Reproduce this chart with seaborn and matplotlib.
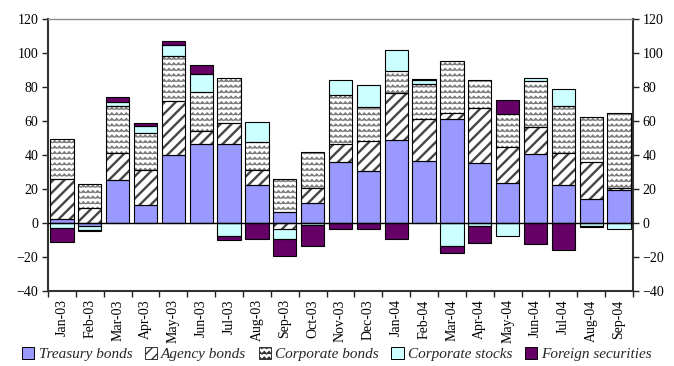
import warnings
import numpy as np
import pandas as pd
import matplotlib
matplotlib.use("Agg")
import matplotlib.pyplot as plt
from matplotlib import hatch as mhatch
from matplotlib.path import Path
from matplotlib.patches import Patch, Rectangle
from matplotlib.ticker import FixedLocator
import seaborn as sns

warnings.filterwarnings("ignore")

# Net purchases by instrument, billions of dollars
months = ["Jan-03", "Feb-03", "Mar-03", "Apr-03", "May-03", "Jun-03", "Jul-03",
          "Aug-03", "Sep-03", "Oct-03", "Nov-03", "Dec-03", "Jan-04", "Feb-04",
          "Mar-04", "Apr-04", "May-04", "Jun-04", "Jul-04", "Aug-04", "Sep-04"]
treasury = [2.2, -1.8, 25.5, 10.8, 40.2, 46.7, 46.7, 22.5, 6.7, 11.8, 35.9,
            30.8, 48.8, 36.7, 61.0, 35.3, 23.3, 40.6, 22.4, 14.1, 19.2]
agency = [23.8, 9.0, 15.9, 20.2, 31.4, 7.6, 11.9, 8.5, -3.5, 9.0, 10.4,
          17.2, 27.5, 24.5, 3.9, 32.3, 21.2, 15.9, 19.0, 21.6, 1.2]
corporate = [23.6, 13.7, 27.2, 22.1, 26.8, 22.7, 26.9, 16.8, 19.4, 21.0, 29.2,
             20.0, 12.9, 20.8, 30.4, 16.3, 19.6, 27.0, 27.6, 26.5, 44.3]
stocks = [-3.0, -2.2, 2.8, 4.2, 6.5, 10.5, -7.5, 11.8, -6.1, -1.3, 8.8,
          13.4, 12.8, 1.9, -13.3, -1.5, -7.6, 2.0, 10.0, -1.8, -3.7]
foreign = [-8.0, -1.0, 2.9, 1.7, 2.4, 5.2, -2.3, -9.4, -9.6, -12.0, -3.3,
           -3.3, -9.6, 1.0, -4.1, -10.0, 8.4, -12.2, -16.1, -0.6, 0.0]

yticks = list(range(-40, 121, 20))


class WaveHatch(mhatch.HatchPatternBase):
    """Rows of small zigzag lines, drawn for every '~' in a hatch string."""
    periods = 21

    def __init__(self, hatch, density):
        self.num_rows = int(hatch.count("~") * density)
        self.npts = 2 * self.periods + 1
        self.num_vertices = self.num_rows * self.npts

    def set_vertices_and_codes(self, vertices, codes):
        xs = np.linspace(0.0, 1.0, self.npts)
        amp = 0.22 / self.num_rows
        offs = np.where(np.arange(self.npts) % 2 == 0, -amp, amp)
        for i in range(self.num_rows):
            y = (i + 0.5) / self.num_rows
            sl = slice(i * self.npts, (i + 1) * self.npts)
            vertices[sl, 0] = xs
            vertices[sl, 1] = y + offs
            codes[sl] = Path.LINETO
            codes[i * self.npts] = Path.MOVETO


if WaveHatch not in mhatch._hatch_types:
    mhatch._hatch_types.append(WaveHatch)

sns.set_theme(style="white")
plt.rcParams["font.family"] = ["Liberation Serif", "DejaVu Serif"]
plt.rcParams["hatch.linewidth"] = 1.0

styles = [
    ("Treasury bonds", treasury, "#9999FF", None, None, None),
    ("Agency bonds", agency, "white", "///", "#454545", 1.7),
    ("Corporate bonds", corporate, "white", "~~~", "#7a7a7a", 0.7),
    ("Corporate stocks", stocks, "#CCFFFF", None, None, None),
    ("Foreign securities", foreign, "#660066", None, None, None),
]

fig = plt.figure(figsize=(6.74, 3.66), dpi=100)
ax = fig.add_axes([0.0712, 0.205, 0.868, 0.743])

n = len(months)
pos_base = np.zeros(n)
neg_base = np.zeros(n)
handles = []
for name, vals, fc, hatch, hcol, hlw in styles:
    v = np.asarray(vals, dtype=float)
    bottom = np.where(v >= 0, pos_base, neg_base)
    df = pd.DataFrame({"month": months, "value": v})
    sns.barplot(data=df, x="month", y="value", order=months, bottom=bottom,
                width=0.84, color=fc, saturation=1, errorbar=None,
                linewidth=0, ax=ax, zorder=2)
    bars = ax.containers[-1]
    for p in bars:
        if hatch:
            p.set_hatch(hatch)
            p.set_edgecolor(hcol)
            p.set_linewidth(0)
            if hasattr(p, "set_hatch_linewidth"):
                p.set_hatch_linewidth(hlw)
        if abs(p.get_height()) > 1e-9:
            ax.add_patch(Rectangle(p.get_xy(), p.get_width(), p.get_height(),
                                   fill=False, ec="black", lw=0.8, zorder=3))
    pos_base += np.where(v > 0, v, 0)
    neg_base += np.where(v < 0, v, 0)
    hp = Patch(facecolor=fc, edgecolor="black" if hatch is None else "#333333",
               hatch=hatch, lw=0.7, label=name)
    handles.append(hp)

ax.axhline(0, color="black", lw=1.0, zorder=4)

ax.set_xlim(-0.5, n - 0.5)
ax.set_ylim(-40, 120)
ax.set_yticks(yticks)
ax.set_xlabel("")
ax.set_ylabel("")
ax.set_xticks(range(n))
ax.set_xticklabels(months, rotation=90, fontsize=10, color="black")
ax.xaxis.set_minor_locator(FixedLocator(np.arange(-0.5, n, 1.0)))
ax.tick_params(axis="x", which="major", length=0, pad=6)
ax.tick_params(axis="x", which="minor", length=4, width=1, color="#222222",
               direction="out", bottom=True)
ax.tick_params(axis="y", length=4, width=1, color="#222222", direction="out",
               left=True, labelsize=10, labelcolor="black", pad=3)

for side in ["left", "right", "bottom"]:
    ax.spines[side].set_color("#333333")
    ax.spines[side].set_linewidth(1.5)
ax.spines["top"].set_color("#8c8c8c")
ax.spines["top"].set_linewidth(1.0)

ax2 = ax.twinx()
ax2.set_ylim(-40, 120)
ax2.set_yticks(yticks)
ax2.tick_params(axis="y", length=4, width=1, color="#222222", direction="out",
                right=True, labelsize=10, labelcolor="black", pad=3)
for s in ax2.spines.values():
    s.set_visible(False)
ax2.grid(False)

fig.legend(handles=handles, loc="lower center", bbox_to_anchor=(0.5, -0.012),
           ncol=5, frameon=False, prop={"style": "italic", "size": 11},
           handlelength=0.8, handleheight=0.8, handletextpad=0.3,
           columnspacing=0.8, borderaxespad=0.2)

fig.savefig("out.png", dpi=100)
